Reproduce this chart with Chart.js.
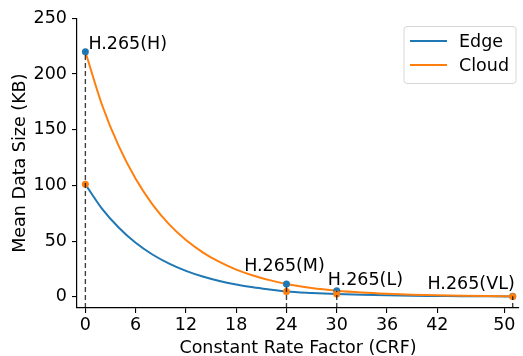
<!DOCTYPE html>
<html>
<head>
<meta charset="utf-8">
<script src="https://cdn.jsdelivr.net/npm/chart.js@4/dist/chart.umd.min.js"></script>
<style>
  html, body { margin: 0; padding: 0; background: #fff; }
  #wrap { width: 523px; height: 356px; position: relative; }
</style>
</head>
<body>
<div id="wrap"><canvas id="c" width="523" height="356"></canvas></div>
<script>
// ---- data ----
const crf        = [0, 2, 4, 6, 8, 10, 12, 14, 16, 18, 20, 22, 24, 27, 30, 33, 36, 39, 42, 45, 48, 51];
const edgeSize   = [101, 79, 62, 48.5, 38, 29.8, 23.3, 18.2, 14.2, 11.1, 8.6, 6.6, 4.8, 3.5, 2.6, 1.9, 1.4, 1.0, 0.8, 0.6, 0.5, 0.4];
const cloudSize  = [220, 172, 135, 106, 83, 65, 51, 40, 31.3, 24.5, 19.2, 15.0, 11.5, 7.9, 5.5, 3.9, 2.8, 2.0, 1.4, 1.0, 0.7, 0.5];
const presetCRF   = [0, 24, 30, 51];
const presetEdge  = [101, 4.8, 2.6, 0.4];
const presetCloud = [220, 11.5, 5.5, 0.5];
const presetNames = ['H.265(H)', 'H.265(M)', 'H.265(L)', 'H.265(VL)'];
const xTickValues = [0, 6, 12, 18, 24, 30, 36, 42, 50];
const yTickValues = [0, 50, 100, 150, 200, 250];

// ---- styles ----
const BLUE = '#1f77b4', ORANGE = '#ff7f0e';
const FONT = { family: 'DejaVu Sans', size: 17.5 };
const labelPlacement = [
  { dx: 3,  dy: -3,   align: 'left' },
  { dx: -2, dy: -13.5, align: 'center' },
  { dx: -9, dy: -6,   align: 'left' },
  { dx: 2,  dy: -7,   align: 'right' }
];

const pts = (xs, ys) => xs.map((x, i) => ({ x: x, y: ys[i] }));

const datasets = [
  { label: 'Edge', data: pts(crf, edgeSize), borderColor: BLUE, backgroundColor: BLUE,
    borderWidth: 2, pointRadius: 0, cubicInterpolationMode: 'monotone', order: 5 },
  { label: 'Cloud', data: pts(crf, cloudSize), borderColor: ORANGE, backgroundColor: ORANGE,
    borderWidth: 2, pointRadius: 0, cubicInterpolationMode: 'monotone', order: 4 },
  { label: 'cloud presets', data: pts(presetCRF, presetCloud), showLine: false,
    pointRadius: 3.5, pointBackgroundColor: BLUE, pointBorderWidth: 0, order: 3, isMarker: true },
  { label: 'edge presets', data: pts(presetCRF, presetEdge), showLine: false,
    pointRadius: 3.5, pointBackgroundColor: ORANGE, pointBorderWidth: 0, order: 2, isMarker: true }
];
presetCRF.forEach((x, i) => {
  datasets.push({ label: 'guide', data: [{ x: x, y: -10 }, { x: x, y: presetCloud[i] }],
    borderColor: 'rgba(0,0,0,0.75)', borderWidth: 1.4, borderDash: [5, 3], pointRadius: 0,
    order: 1, isMarker: true });
});

const annotate = {
  id: 'annotate',
  afterDatasetsDraw(chart) {
    const { ctx, scales: { x, y } } = chart;
    ctx.save();
    ctx.font = FONT.size + 'px ' + FONT.family;
    ctx.fillStyle = '#000';
    ctx.textBaseline = 'alphabetic';
    presetNames.forEach((name, i) => {
      const p = labelPlacement[i];
      ctx.textAlign = p.align;
      ctx.fillText(name, x.getPixelForValue(presetCRF[i]) + p.dx, y.getPixelForValue(presetCloud[i]) + p.dy);
    });
    ctx.restore();
  }
};

const boxLegend = {
  id: 'boxLegend',
  afterDraw(chart) {
    const ctx = chart.ctx;
    const items = chart.data.datasets.filter(d => !d.isMarker);
    const bx = 404, by = 26.5, bw = 112, bh = 57, r = 3;
    ctx.save();
    ctx.beginPath();
    ctx.roundRect(bx, by, bw, bh, r);
    ctx.fillStyle = 'rgba(255,255,255,0.8)';
    ctx.fill();
    ctx.strokeStyle = '#d6d6d6';
    ctx.lineWidth = 1;
    ctx.stroke();
    ctx.font = FONT.size + 'px ' + FONT.family;
    ctx.textAlign = 'left';
    ctx.textBaseline = 'middle';
    items.forEach((d, i) => {
      const yy = 41 + i * 24;
      ctx.strokeStyle = d.borderColor;
      ctx.lineWidth = 2;
      ctx.beginPath();
      ctx.moveTo(410, yy);
      ctx.lineTo(447, yy);
      ctx.stroke();
      ctx.fillStyle = '#000';
      ctx.fillText(d.label, 459, yy + 1);
    });
    ctx.restore();
  }
};

new Chart(document.getElementById('c'), {
  type: 'line',
  data: { datasets: datasets },
  plugins: [annotate, boxLegend],
  options: {
    responsive: false,
    animation: false,
    devicePixelRatio: 1,
    layout: { padding: { top: 18.3, right: 0, left: 0, bottom: 0 } },
    plugins: { legend: { display: false }, tooltip: { enabled: false } },
    scales: {
      x: {
        type: 'linear', min: -1, max: 51.75,
        afterBuildTicks(s) { s.ticks = xTickValues.map(v => ({ value: v })); },
        afterFit(s) { s.height = 48; },
        grid: { drawOnChartArea: false, drawTicks: true, tickLength: 5, color: '#000', lineWidth: 1.1 },
        border: { display: true, color: '#000', width: 1.2 },
        ticks: { color: '#000', font: FONT, padding: 2, maxRotation: 0, autoSkip: false },
        title: { display: true, text: 'Constant Rate Factor (CRF)', color: '#000',
                 font: { family: 'DejaVu Sans', size: 17.5, lineHeight: 0.86 },
                 padding: { top: 0, bottom: 0 } }
      },
      y: {
        type: 'linear', min: -10, max: 250,
        afterBuildTicks(s) { s.ticks = yTickValues.map(v => ({ value: v })); },
        afterFit(s) { s.width = 77; },
        grid: { drawOnChartArea: false, drawTicks: true, tickLength: 5, color: '#000', lineWidth: 1.1 },
        border: { display: true, color: '#000', width: 1.2 },
        ticks: { color: '#000', font: FONT, padding: 5, autoSkip: false },
        title: { display: true, text: 'Mean Data Size (KB)', color: '#000', font: FONT,
                 padding: { top: 10, bottom: 0 } }
      }
    }
  }
});
</script>
</body>
</html>
